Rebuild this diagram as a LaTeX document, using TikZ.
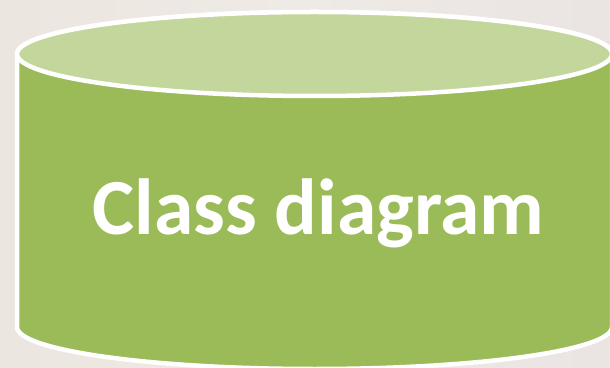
\documentclass[tikz,border=0pt]{standalone}
\usepackage{fontspec}
\setmainfont{Carlito}
\definecolor{bgA}{HTML}{ECE6E0}
\definecolor{bgB}{HTML}{EEEAE5}
\definecolor{bgC}{HTML}{EAE4E3}
\definecolor{cylbody}{HTML}{9BBB59}
\definecolor{cyltop}{HTML}{C3D69B}
\tikzset{
  cylline/.style={draw=white, line width=4.5pt},
  label/.style={text=white, font=\fontsize{79.5}{84}\selectfont\bfseries, inner sep=0pt, anchor=base}
}
\begin{document}
\begin{tikzpicture}[x=1pt,y=1pt]
\useasboundingbox (0,0) rectangle (610,367);
\clip (0,0) rectangle (610,367);
\shade[left color=bgA, right color=bgC, middle color=bgB] (0,0) rectangle (610,367);
% body
\path[fill=cylbody, cylline] (17,313) -- (17,40) arc[start angle=180, end angle=360, x radius=297.5, y radius=42] -- (612,313) arc[start angle=0, end angle=180, x radius=297.5, y radius=42] -- cycle;
% top
\path[fill=cyltop, cylline] (314.5,313) ellipse[x radius=297.5, y radius=42];
\node[label] (title) at (318.5,132) {Class diagram};
\end{tikzpicture}
\end{document}
